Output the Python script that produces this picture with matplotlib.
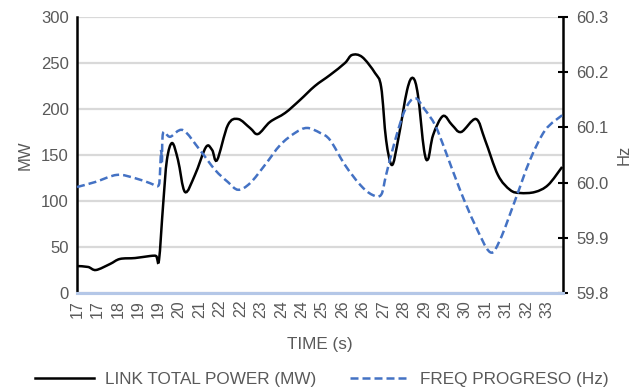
import matplotlib
matplotlib.use("Agg")
import matplotlib.pyplot as plt
from matplotlib.path import Path
from matplotlib.patches import PathPatch
from matplotlib.lines import Line2D
import numpy as np

plt.rcParams['font.family'] = ['Liberation Sans', 'DejaVu Sans']

# Time axis labels (s), one every 0.7 s starting at 16.6 s
tick_times = [16.6 + 0.7 * i for i in range(24)]
tick_labels = ["17", "17", "18", "19", "19", "20", "21", "22", "22", "23", "24", "24",
               "25", "26", "26", "27", "28", "29", "29", "30", "31", "31", "32", "33"]

# Link total power (MW)
power_t = [16.60, 16.98, 17.25, 17.73, 18.07, 18.59, 19.10, 19.31, 19.41, 19.55,
           19.68, 19.86, 20.06, 20.30, 20.64, 21.02, 21.23, 21.40, 21.77, 22.12,
           22.53, 22.80, 23.21, 23.73, 24.24, 24.75, 25.27, 25.78, 26.02, 26.37,
           26.81, 27.02, 27.19, 27.39, 27.60, 27.91, 28.11, 28.28, 28.49, 28.63,
           28.80, 29.14, 29.45, 29.76, 30.27, 30.58, 31.02, 31.44, 31.78, 32.29,
           32.74, 33.22]
power_mw = [29.3, 28.3, 25.0, 31.5, 37.0, 38.0, 40.2, 40.2, 35.9, 95.7,
            144.6, 163.0, 144.6, 109.8, 128.3, 158.7, 155.4, 144.6, 182.6, 189.1,
            179.3, 172.8, 185.9, 195.7, 209.8, 225.0, 237.0, 250.0, 258.7, 256.5,
            239.1, 223.9, 166.3, 139.1, 166.3, 220.7, 233.7, 215.2, 155.4, 145.7,
            171.7, 192.4, 182.6, 175.0, 189.1, 166.3, 128.3, 112.0, 108.7, 109.8,
            117.4, 137.0]

# Frequency at Progreso (Hz)
freq_t = [16.60, 17.22, 17.97, 18.59, 19.10, 19.38, 19.44, 19.48, 19.51, 19.55,
          19.79, 20.23, 20.81, 21.33, 21.77, 22.12, 22.53, 23.04, 23.56, 24.07,
          24.48, 24.93, 25.27, 25.78, 26.30, 26.71, 27.02, 27.19, 27.50, 27.84,
          28.18, 28.52, 28.87, 29.21, 29.72, 30.24, 30.75, 31.09, 31.61, 32.12,
          32.64, 33.22]
freq_hz = [59.992, 60.001, 60.014, 60.008, 59.999, 59.994, 60.014, 60.059, 60.037, 60.090,
           60.083, 60.095, 60.059, 60.023, 60.001, 59.987, 59.999, 60.032, 60.068, 60.090,
           60.099, 60.090, 60.077, 60.032, 59.996, 59.978, 59.978, 60.014, 60.077, 60.132,
           60.153, 60.132, 60.104, 60.059, 59.987, 59.923, 59.874, 59.896, 59.968, 60.041,
           60.095, 60.122]

grey = "#595959"
blue = "#4472C4"


def smooth_path(ax, xs, ys):
    """Cubic Bezier path through the points (smoothed line), in display space."""
    pts = ax.transData.transform(np.column_stack([xs, ys]))
    n = len(pts)
    verts = [pts[0]]
    codes = [Path.MOVETO]
    for i in range(n - 1):
        p0 = pts[i - 1] if i > 0 else pts[i]
        p1 = pts[i]
        p2 = pts[i + 1]
        p3 = pts[i + 2] if i + 2 < n else pts[i + 1]
        c1 = p1 + (p2 - p0) / 6.0
        c2 = p2 - (p3 - p1) / 6.0
        verts += [c1, c2, p2]
        codes += [Path.CURVE4] * 3
    return Path(np.array(verts), codes)


fig = plt.figure(figsize=(6.37, 3.87), dpi=100)
ax = fig.add_axes([77 / 637, 1 - 293 / 387, (563 - 77) / 637, (293 - 17) / 387])
ax2 = ax.twinx()

ax.set_xlim(16.6, 33.25)
ax.set_ylim(0, 300)
ax.set_yticks(np.arange(0, 301, 50))
ax.grid(axis='y', color="#d9d9d9", linewidth=1.6)
ax.set_axisbelow(True)

ax2.set_ylim(59.8, 60.3)
ax2.set_yticks([59.8, 59.9, 60.0, 60.1, 60.2, 60.3])
ax2.set_yticklabels(["59.8", "59.9", "60.0", "60.1", "60.2", "60.3"])

ax.set_xticks(tick_times)
ax.set_xticklabels(tick_labels, rotation=90)

# Smoothed series lines (built in display space after limits are fixed)
p1 = PathPatch(smooth_path(ax, power_t, power_mw), facecolor='none', edgecolor='black',
               linewidth=1.8, transform=None, zorder=3, clip_on=False)
fig.add_artist(p1)
p2 = PathPatch(smooth_path(ax2, freq_t, freq_hz), facecolor='none', edgecolor=blue,
               linewidth=1.8, linestyle=(0, (3.2, 1.6)), transform=None, zorder=3,
               clip_on=False)
fig.add_artist(p2)

for a in (ax, ax2):
    a.spines['top'].set_visible(False)
    a.spines['left'].set_linewidth(1.8)
    a.spines['right'].set_linewidth(1.8)
    a.spines['bottom'].set_color("#b4c7e7")
    a.spines['bottom'].set_linewidth(2.2)
ax.spines['right'].set_visible(False)
ax2.spines['left'].set_visible(False)

ax.tick_params(axis='y', length=0, labelsize=12, labelcolor=grey, pad=6)
ax.tick_params(axis='x', length=0, labelsize=11.5, labelcolor=grey, pad=5)
ax2.tick_params(axis='y', direction='inout', length=7, width=1.5, labelsize=12,
                labelcolor=grey, pad=6)

ax.set_ylabel("MW", fontsize=12, color=grey, labelpad=6)
ax2.set_ylabel("Hz", fontsize=12, color=grey, rotation=90, labelpad=6)
ax.set_xlabel("TIME (s)", fontsize=12.3, color=grey, labelpad=14)

h1 = Line2D([], [], color='black', linewidth=1.8)
h2 = Line2D([], [], color=blue, linewidth=1.8, linestyle=(0, (3.2, 1.6)))
fig.legend(handles=[h1, h2], labels=["LINK TOTAL POWER (MW)", "FREQ PROGRESO (Hz)"],
           loc='lower center', bbox_to_anchor=(0.505, -0.04),
           ncol=2, frameon=False, fontsize=12.3, labelcolor=grey,
           handlelength=3.5, columnspacing=2.0, handletextpad=0.6)

fig.savefig("out.png", dpi=100)
